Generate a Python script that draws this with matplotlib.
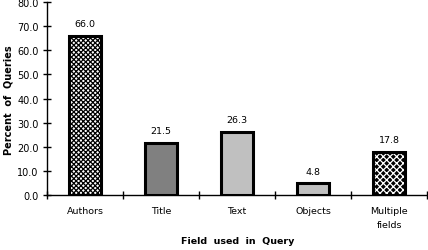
import matplotlib.pyplot as plt

plt.rcParams['font.family'] = ['DejaVu Sans']
plt.rcParams['hatch.linewidth'] = 0.9

categories = ['Authors', 'Title', 'Text', 'Objects', 'Multiple\nfields']
percents = [66.0, 21.5, 26.3, 4.8, 17.8]
face_colors = ['white', '#808080', '#c0c0c0', '#c0c0c0', 'black']
hatch_colors = ['black', '#808080', '#c0c0c0', '#c0c0c0', 'white']
hatches = ['xxxxxxx', '', '', '', 'xxxxx']
yticks = [0, 10, 20, 30, 40, 50, 60, 70, 80]

fig = plt.figure(figsize=(4.28, 2.51), dpi=100)
ax = fig.add_axes([0.110, 0.219, 0.888, 0.769])

x = list(range(len(categories)))
# fill + hatch first, then a plain black outline on top
for i in x:
    ax.bar(i, percents[i], width=0.43, color=face_colors[i],
           edgecolor=hatch_colors[i], hatch=hatches[i], linewidth=0)
ax.bar(x, percents, width=0.43, fill=False, edgecolor='black', linewidth=2.2)

for i, v in enumerate(percents):
    ax.text(i, v + 3.2, f"{v:.1f}", ha='center', va='bottom', fontsize=6.8)

ax.set_xlim(-0.5, len(categories) - 0.5)
ax.set_ylim(0, 80)
ax.set_yticks(yticks)
ax.set_yticklabels([f"{t:.1f}" for t in yticks], fontsize=7)

# category names sit between the tick marks, ticks at the boundaries
ax.set_xticks([i - 0.5 for i in range(len(categories) + 1)])
ax.set_xticklabels([])
for i, c in enumerate(categories):
    ax.text(i, -4.6, c, ha='center', va='top', fontsize=6.8, linespacing=1.75)

ax.tick_params(axis='both', direction='inout', length=6, width=1, pad=3)
ax.spines['top'].set_visible(False)
ax.spines['right'].set_visible(False)
ax.spines['left'].set_linewidth(1)
ax.spines['bottom'].set_linewidth(1)

fig.text(0.020, 0.60, 'Percent  of  Queries', rotation=90, ha='center',
         va='center', fontsize=7, fontweight='bold')
fig.text(0.555, 0.036, 'Field  used  in  Query', ha='center', va='center',
         fontsize=6.8, fontweight='bold')

fig.savefig('out.png', dpi=100)
